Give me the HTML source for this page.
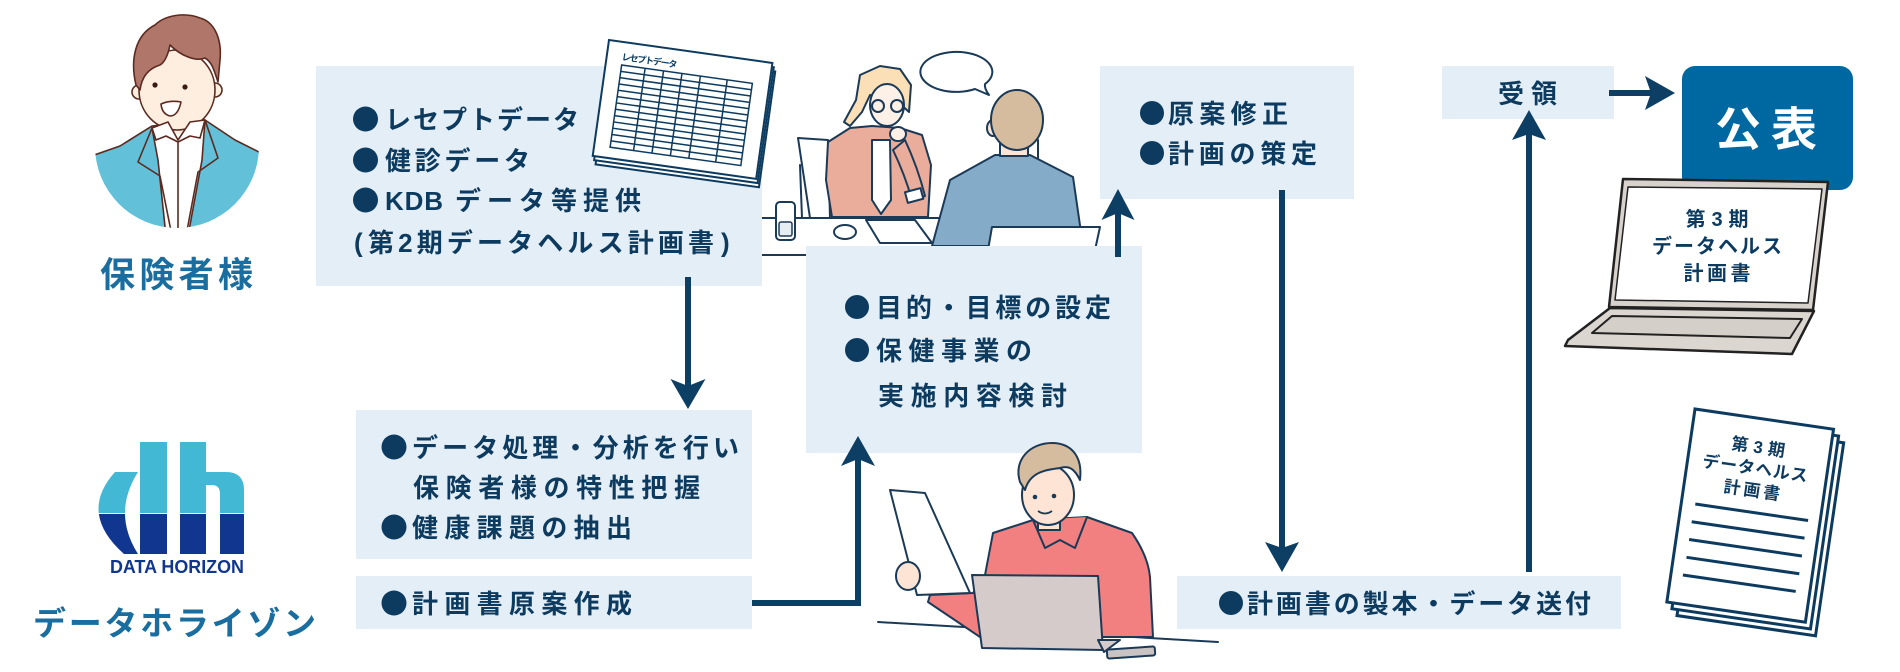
<!DOCTYPE html>
<html lang="ja">
<head>
<meta charset="utf-8">
<style>
  html,body{margin:0;padding:0;background:#fff;}
  body{width:1900px;height:672px;overflow:hidden;}
  svg{display:block;}
  .t{font-family:"Liberation Sans","Noto Sans CJK JP",sans-serif;font-weight:700;fill:#0d3b5f;font-size:26px;}
</style>
</head>
<body>
<svg width="1900" height="672" viewBox="0 0 1900 672" xmlns="http://www.w3.org/2000/svg">
  <defs>
    <clipPath id="pc"><circle cx="177" cy="146" r="82"/></clipPath>
    <clipPath id="ltop"><rect x="80" y="430" width="180" height="83"/></clipPath>
    <clipPath id="lbot"><rect x="80" y="514" width="180" height="60"/></clipPath>
  </defs>

  <!-- ===== Person 1 (insurer) ===== -->
  <g stroke="#5b2a20" stroke-width="1.6" stroke-linejoin="round">
    <g clip-path="url(#pc)">
      <polygon points="80,160 120,146 152,126 205,120 235,140 275,160 275,240 80,240" fill="#62c0d8"/>
      <polygon points="152,128 205,120 202,160 188,236 166,236 158,160" fill="#ffffff"/>
      <polyline points="152,128 138,162 160,176 172,236" fill="none"/>
      <polyline points="205,120 218,158 198,172 186,236" fill="none"/>
      <line x1="178" y1="140" x2="178" y2="236"/>
    </g>
    <rect x="160" y="112" width="34" height="22" fill="#fdeee0" stroke="none"/>
    <circle cx="139" cy="92" r="7" fill="#fdeee0"/>
    <circle cx="215" cy="90" r="7" fill="#fdeee0"/>
    <ellipse cx="177" cy="90" rx="38" ry="40" fill="#fdeee0"/>
    <path d="M136,85 C130,60 135,35 155,25 C165,15 185,12 200,18 C215,22 222,40 220,60 L218,82 C214,70 212,62 205,58 C195,62 180,55 170,45 C168,55 165,62 160,65 C150,68 142,75 140,90 Z" fill="#b0766a"/>
    <path d="M152,128 L168,122 L178,140 L190,122 L205,120 L200,138 L190,136 L178,142 L166,136 L156,140 Z" fill="#ffffff"/>
    <path d="M161,104 Q170,100 181,102 Q178,116 170,116 Q162,114 161,104 Z" fill="#ffffff"/>
  </g>
  <circle cx="155" cy="85" r="2.6" fill="#3a1a12"/>
  <circle cx="185" cy="87" r="2.6" fill="#3a1a12"/>

  <!-- labels -->
  <text x="100" y="287" textLength="153" lengthAdjust="spacing" class="t" style="font-size:35px;fill:#1a6d9f">保険者様</text>

  <!-- logo -->
  <g clip-path="url(#ltop)" fill="#42b8d5">
    <path d="M115,472 Q78,513 124,554 L138,554 Q112,513 138,472 Z"/>
    <rect x="140" y="442" width="27" height="112"/>
    <rect x="180" y="442" width="26" height="112"/>
    <path d="M206,472 L226,472 Q244,472 244,490 L244,554 L220,554 L220,494 Q220,485 212,485 L206,485 Z"/>
  </g>
  <g clip-path="url(#lbot)" fill="#10368f">
    <path d="M115,472 Q78,513 124,554 L138,554 Q112,513 138,472 Z"/>
    <rect x="140" y="442" width="27" height="112"/>
    <rect x="180" y="442" width="26" height="112"/>
    <path d="M206,472 L226,472 Q244,472 244,490 L244,554 L220,554 L220,494 Q220,485 212,485 L206,485 Z"/>
  </g>
  <text x="110" y="573" textLength="134" lengthAdjust="spacingAndGlyphs" style="font-family:'Liberation Sans',sans-serif;font-weight:700;font-size:18px;fill:#10368f">DATA HORIZON</text>
  <text x="33" y="635" textLength="283" lengthAdjust="spacing" class="t" style="font-size:33px;fill:#1a6d9f">データホライゾン</text>

  <!-- ===== Meeting scene ===== -->
  <g stroke="#1b3a57" stroke-width="2" stroke-linejoin="round" stroke-linecap="round">
    <line x1="762" y1="218" x2="1000" y2="218"/>
    <line x1="762" y1="255" x2="806" y2="255"/>
    <polygon points="798,138 828,140 830,218 810,218" fill="#ffffff"/>
    <line x1="800" y1="165" x2="802" y2="218"/>
    <rect x="776" y="202" width="19" height="38" rx="4" fill="#ffffff"/>
    <rect x="779" y="222" width="13" height="14" rx="2" fill="#e7eef2" stroke-width="1.5"/>
    <!-- woman -->
    <polygon points="860,75 880,66 900,69 911,85 909,112 896,100 870,95 862,112 850,126 844,122 856,100" fill="#fbdfb6"/>
    <ellipse cx="887" cy="105" rx="17" ry="21" fill="#fdf0e6"/>
    <circle cx="878" cy="106" r="6" fill="none"/>
    <circle cx="897" cy="106" r="6" fill="none"/>
    <polygon points="828,142 850,128 872,126 900,128 922,135 931,165 928,217 832,217 826,180" fill="#eaad9b"/>
    <polygon points="872,140 890,140 891,200 881,214 872,200" fill="#ffffff"/>
    <path d="M893,150 Q905,175 912,200 L925,196 Q918,168 905,140 Z" fill="#eaad9b"/>
    <rect x="906" y="190" width="16" height="11" fill="#ffffff" transform="rotate(-15 914 195)"/>
    <ellipse cx="898" cy="134" rx="8" ry="7" fill="#fdf0e6"/>
    <polygon points="866,220 915,220 932,243 880,243" fill="#ffffff"/>
    <ellipse cx="845" cy="232" rx="11" ry="7" fill="#ffffff"/>
    <!-- speech bubble -->
    <path d="M975,89 Q989,95 989,95 Q984,88 985,84 A36,20 0 1 0 975,89 Z" fill="#ffffff"/>
    <!-- man from back -->
    <line x1="1038" y1="140" x2="1038" y2="162"/>
    <polygon points="950,180 995,155 1030,155 1073,177 1083,246 932,246" fill="#84abc8"/>
    <ellipse cx="993" cy="128" rx="6" ry="8" fill="#fde4d4"/>
    <rect x="1000" y="140" width="28" height="16" fill="#fde4d4"/>
    <ellipse cx="1017" cy="120" rx="26" ry="30" fill="#d6bc9f"/>
    <polygon points="992,227 1100,227 1095,250 988,250" fill="#ffffff"/>
  </g>

  <!-- ===== Boxes ===== -->
  <g fill="#e4eef6">
    <rect x="316" y="66" width="446" height="220"/>
    <rect x="356" y="410" width="396" height="149"/>
    <rect x="356" y="576" width="396" height="53"/>
    <rect x="806" y="246" width="336" height="207"/>
    <rect x="1100" y="66" width="254" height="133"/>
    <rect x="1177" y="576" width="444" height="53"/>
    <rect x="1442" y="66" width="172" height="53"/>
  </g>

  <!-- ===== Worker scene (over box 4) ===== -->
  <g stroke="#1b3a57" stroke-width="2" stroke-linejoin="round" stroke-linecap="round">
    <line x1="878" y1="622" x2="1218" y2="642"/>
    <path d="M993,533 L1033,520 L1087,517 L1132,533 Q1148,556 1150,577 L1153,637 L980,637 L928,602 L930,595 L973,593 L985,575 Z" fill="#f28080"/>
    <path d="M1033,520 L1045,548 L1060,540 L1075,548 L1087,517" fill="#f28080"/>
    <rect x="1038" y="512" width="22" height="18" fill="#fde4d4"/>
    <ellipse cx="1048" cy="495" rx="26" ry="30" fill="#fde4d4"/>
    <path d="M1020,482 C1013,460 1030,443 1052,443 C1070,443 1083,455 1080,480 C1075,470 1070,465 1060,468 C1045,470 1030,472 1025,490 Z" fill="#d6bc9f"/>
    <polygon points="890,490 925,493 970,593 917,595" fill="#ffffff"/>
    <ellipse cx="908" cy="576" rx="12" ry="14" fill="#fde4d4"/>
    <polygon points="972,575 1098,576 1103,650 982,648" fill="#d6cbcb"/>
    <polygon points="1098,640 1120,640 1104,652" fill="#d6cbcb"/>
    <rect x="1107" y="648" width="48" height="9" rx="2" fill="#c9c3c3" transform="rotate(-4 1131 652)"/>
  </g>
  <circle cx="1035" cy="497" r="2.3" fill="#1b3a57"/>
  <circle cx="1054" cy="496" r="2.3" fill="#1b3a57"/>
  <path d="M1038,511 Q1045,516 1052,511" stroke="#1b3a57" stroke-width="1.8" fill="none"/>

  <!-- spreadsheet -->
  <g transform="translate(609,40) rotate(8)" stroke="#0d3b5f" fill="#ffffff" stroke-width="2">
    <rect x="4" y="8" width="165" height="117"/>
    <rect x="2" y="4" width="165" height="117"/>
    <rect x="0" y="0" width="165" height="117"/>
    <g stroke-width="1.5" fill="none">
      <rect x="16" y="23" width="132" height="83"/>
      <path d="M39.7,23V106M58.3,23V106M76.9,23V106M95.5,23V106M122.6,23V106"/>
      <path d="M16,29.4H148M16,35.8H148M16,42.2H148M16,48.5H148M16,54.9H148M16,61.3H148M16,67.7H148M16,74.1H148M16,80.5H148M16,86.8H148M16,93.2H148M16,99.6H148"/>
    </g>
    <text x="15" y="18" textLength="56" lengthAdjust="spacing" class="t" stroke="none" style="font-size:9px">レセプトデータ</text>
  </g>

  <!-- ===== Box text ===== -->
  <g fill="#0d3b5f">
    <circle cx="365.5" cy="119" r="12.5"/>
    <circle cx="365.5" cy="160" r="12.5"/>
    <circle cx="365.5" cy="200" r="12.5"/>
    <circle cx="394" cy="447" r="12.5"/>
    <circle cx="394" cy="527" r="12.5"/>
    <circle cx="394" cy="603" r="12.5"/>
    <circle cx="857" cy="307" r="12"/>
    <circle cx="857" cy="350" r="12"/>
    <circle cx="1152" cy="113" r="12"/>
    <circle cx="1152" cy="153" r="12"/>
    <circle cx="1231" cy="603" r="12"/>
  </g>
  <text x="385" y="129" textLength="194" lengthAdjust="spacing" class="t">レセプトデータ</text>
  <text x="385" y="170" textLength="145" lengthAdjust="spacing" class="t">健診データ</text>
  <text x="385" y="210" textLength="58" lengthAdjust="spacing" class="t">KDB</text>
  <text x="455" y="210" textLength="186" lengthAdjust="spacing" class="t">データ等提供</text>
  <text x="354" y="251.5" class="t">(</text>
  <text x="368" y="252" textLength="346" lengthAdjust="spacing" class="t">第2期データヘルス計画書</text>
  <text x="721" y="251.5" class="t">)</text>

  <text x="412" y="457" textLength="327" lengthAdjust="spacing" class="t">データ処理・分析を行い</text>
  <text x="413" y="497" textLength="287" lengthAdjust="spacing" class="t">保険者様の特性把握</text>
  <text x="412" y="537" textLength="220" lengthAdjust="spacing" class="t">健康課題の抽出</text>
  <text x="412" y="613" textLength="220" lengthAdjust="spacing" class="t">計画書原案作成</text>

  <text x="876" y="317" textLength="235" lengthAdjust="spacing" class="t">目的・目標の設定</text>
  <text x="876" y="360" textLength="156" lengthAdjust="spacing" class="t">保健事業の</text>
  <text x="878" y="405" textLength="189" lengthAdjust="spacing" class="t">実施内容検討</text>

  <text x="1168" y="123" textLength="120" lengthAdjust="spacing" class="t">原案修正</text>
  <text x="1168" y="163" textLength="149" lengthAdjust="spacing" class="t">計画の策定</text>

  <text x="1247" y="613" textLength="344" lengthAdjust="spacing" class="t">計画書の製本・データ送付</text>
  <text x="1498" y="103" textLength="59" lengthAdjust="spacing" class="t">受領</text>

  <!-- ===== Connectors ===== -->
  <g stroke="#0d3e64" stroke-width="6" fill="none">
    <line x1="688" y1="277" x2="688" y2="388"/>
    <polyline points="752,603 858,603 858,458"/>
    <line x1="1118" y1="257" x2="1118" y2="212"/>
    <line x1="1282" y1="190" x2="1282" y2="550"/>
    <line x1="1529" y1="572" x2="1529" y2="132"/>
    <line x1="1609" y1="93" x2="1652" y2="93"/>
  </g>
  <g fill="#0d3e64">
    <polygon points="688,409 705.5,379 688,386 670.5,379"/>
    <polygon points="858,436 875,466 858,459 841,466"/>
    <polygon points="1118,189 1134.5,220 1118,213 1101.5,220"/>
    <polygon points="1282,572 1299,542 1282,548 1265,542"/>
    <polygon points="1529,110 1546,140 1529,134 1512,140"/>
    <polygon points="1675,93 1645,110 1651,93 1645,76"/>
  </g>

  <!-- ===== 公表 ===== -->
  <rect x="1682" y="66" width="171" height="124" rx="13" fill="#0068a1"/>
  <text x="1715" y="145.5" textLength="102" lengthAdjust="spacing" class="t" style="font-size:46px;fill:#ffffff">公表</text>

  <!-- laptop -->
  <g stroke="#222222" stroke-linejoin="round">
    <polygon points="1623,179 1828,182 1813,310 1609,307" fill="#d8d2cc" stroke-width="2.5"/>
    <polygon points="1628,187 1822,189 1808,303 1615,300" fill="#ffffff" stroke-width="1.5"/>
    <polygon points="1610,308 1814,311 1792,354 1565,346 1568,340" fill="#dcd6d0" stroke-width="2.5"/>
    <polygon points="1612,316 1802,319 1790,338 1592,333" fill="#d5cfc9" stroke-width="2"/>
  </g>
  <text x="1717" y="226" text-anchor="middle" textLength="63" lengthAdjust="spacing" class="t" style="font-size:20px">第3期</text>
  <text x="1717" y="253" text-anchor="middle" textLength="130" lengthAdjust="spacing" class="t" style="font-size:20px">データヘルス</text>
  <text x="1717" y="280" text-anchor="middle" textLength="67" lengthAdjust="spacing" class="t" style="font-size:20px">計画書</text>

  <!-- document stack -->
  <g transform="translate(1695,409) rotate(8.3)" stroke="#0d3b5f" fill="#ffffff" stroke-width="3">
    <rect x="12" y="12" width="140" height="195"/>
    <rect x="6" y="6" width="140" height="195"/>
    <rect x="0" y="0" width="140" height="195"/>
    <g stroke-width="3">
      <line x1="14" y1="94" x2="128" y2="94"/>
      <line x1="13" y1="112" x2="127" y2="112"/>
      <line x1="13" y1="130" x2="127" y2="130"/>
      <line x1="13" y1="148" x2="127" y2="148"/>
      <line x1="12" y1="166" x2="126" y2="166"/>
    </g>
    <g stroke="none">
      <text x="68" y="34.5" text-anchor="middle" textLength="54" lengthAdjust="spacing" class="t" style="font-size:17px">第3期</text>
      <text x="68" y="56" text-anchor="middle" textLength="106" lengthAdjust="spacing" class="t" style="font-size:17px">データヘルス</text>
      <text x="68" y="78" text-anchor="middle" textLength="57" lengthAdjust="spacing" class="t" style="font-size:17px">計画書</text>
    </g>
  </g>
</svg>
</body>
</html>
